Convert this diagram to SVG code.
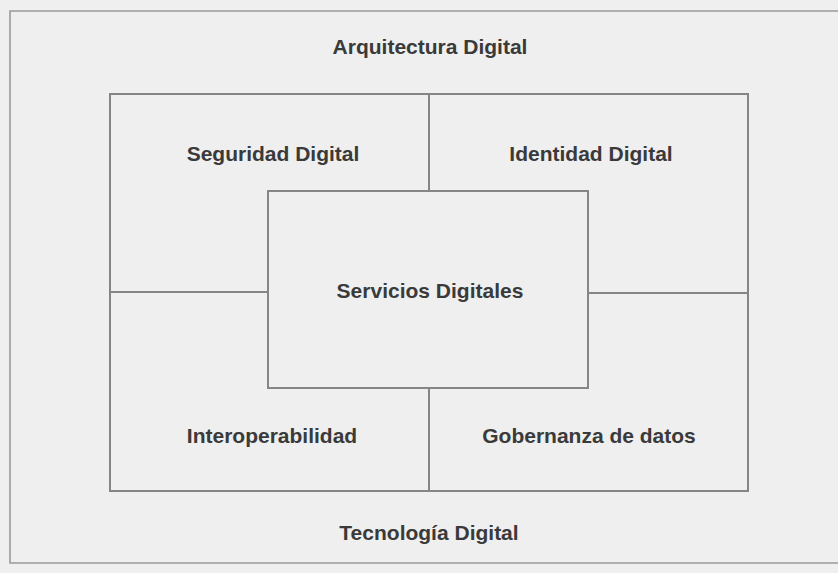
<svg xmlns="http://www.w3.org/2000/svg" width="838" height="573" viewBox="0 0 838 573">
  <style>
    .lbl { font-family: "Liberation Sans", Arial, sans-serif; font-weight: bold; font-size: 21px; fill: #3a3a3a; text-anchor: middle; }
    .box { fill: none; stroke: #858585; stroke-width: 2; }
    .div { stroke: #858585; stroke-width: 2; fill: none; }
  </style>
  <rect x="0" y="0" width="838" height="573" fill="#efefef"/>
  <g id="frame">
    <path d="M838 11 H10 V563 H838" fill="none" stroke="#9a9a9a" stroke-width="1.6"/>
  </g>
  <g id="arquitectura-digital">
    <text class="lbl" x="430" y="54">Arquitectura Digital</text>
  </g>
  <g id="marco">
    <rect class="box" x="110" y="94" width="638" height="397"/>
  </g>
  <g id="connectors">
    <line class="div" x1="429" y1="94" x2="429" y2="191"/>
    <line class="div" x1="429" y1="388" x2="429" y2="491"/>
    <line class="div" x1="110" y1="292" x2="268" y2="292"/>
    <line class="div" x1="588" y1="293" x2="748" y2="293"/>
  </g>
  <g id="seguridad-digital">
    <text class="lbl" x="273" y="161">Seguridad Digital</text>
  </g>
  <g id="identidad-digital">
    <text class="lbl" x="591" y="161">Identidad Digital</text>
  </g>
  <g id="servicios-digitales">
    <rect class="box" x="268" y="191" width="320" height="197" stroke="#7a7a7a"/>
    <text class="lbl" x="430" y="298">Servicios Digitales</text>
  </g>
  <g id="interoperabilidad">
    <text class="lbl" x="272" y="443">Interoperabilidad</text>
  </g>
  <g id="gobernanza-de-datos">
    <text class="lbl" x="589" y="443">Gobernanza de datos</text>
  </g>
  <g id="tecnologia-digital">
    <text class="lbl" x="429" y="540">Tecnología Digital</text>
  </g>
</svg>
